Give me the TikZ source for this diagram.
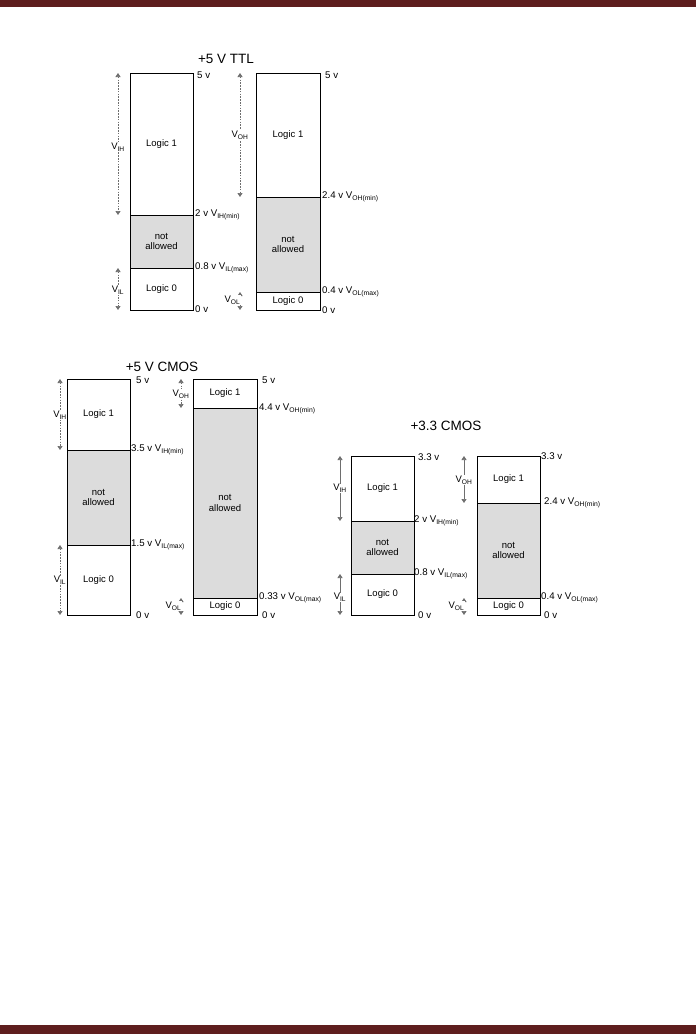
\documentclass[tikz,border=0pt]{standalone}
\usepackage{fontspec}
\setmainfont{Liberation Sans}
\usetikzlibrary{arrows.meta}
\definecolor{pagebar}{RGB}{94,30,30}
\definecolor{shadegray}{RGB}{220,220,220}
\definecolor{dimgray}{RGB}{110,110,110}
\tikzset{
  zone/.style={draw,line width=0.9pt,inner sep=1pt,align=center,font=\fontsize{9.5}{10.5}\selectfont},
  notzone/.style={zone,fill=shadegray},
  lvl/.style={anchor=west,inner sep=0pt,font=\fontsize{9.7}{10.5}\selectfont},
  vlab/.style={fill=white,inner sep=0.5pt,font=\fontsize{9.5}{10.5}\selectfont},
  dim/.style={dimgray,line width=0.6pt,{Triangle[width=5pt,length=4pt]}-{Triangle[width=5pt,length=4pt]}},
  dotdim/.style={dim,dash pattern=on 1.5pt off 1.3pt},
  title/.style={font=\fontsize{13.5}{15}\selectfont}
}
% name, left, right, top, upper line, lower line, bottom, arrow x
\newcommand\logiccol[8]{
  \node[zone,minimum width={#3-#2},minimum height={#5-#4}] (#1-one) at ({(#2+#3)/2},{(#4+#5)/2}) {Logic 1};
  \node[notzone,minimum width={#3-#2},minimum height={#6-#5}] (#1-na) at ({(#2+#3)/2},{(#5+#6)/2}) {not\\allowed};
  \node[zone,minimum width={#3-#2},minimum height={#7-#6}] (#1-zero) at ({(#2+#3)/2},{(#6+#7)/2}) {Logic 0};
  \coordinate (#1-a1) at (#8,#4);
  \coordinate (#1-a2) at (#8,#5);
  \coordinate (#1-a3) at (#8,#6);
  \coordinate (#1-a4) at (#8,#7);
  \draw[arrowline] (#1-a1) -- (#1-a2);
  \draw[arrowline] (#1-a3) -- (#1-a4);
}

\begin{document}
\begin{tikzpicture}[x=1pt,y=-1pt]
\useasboundingbox (0,0) rectangle (696,1034);
\fill[pagebar] (0,0) rectangle (696,7);
\fill[pagebar] (0,1025) rectangle (696,1034);

\begin{scope}[arrowline/.style={dotdim}]
\logiccol{ttlin}{130}{193}{73}{215}{268}{310}{118}
\logiccol{ttlout}{256}{320}{73}{197}{292}{310}{240}
\logiccol{cmin}{67}{130}{379}{450}{545}{615}{60}
\logiccol{cmout}{193}{257}{379}{408}{598}{615}{181}
\end{scope}
\begin{scope}[arrowline/.style={dim}]
\logiccol{lvin}{351}{414}{456}{521}{574}{615}{340}
\logiccol{lvout}{477}{540}{456}{503}{598}{615}{464}
\end{scope}

\node[title] (ttltitle) at (226,59) {+5 V TTL};
\node[title] (cmtitle) at (162,367) {+5 V CMOS};
\node[title] (lvtitle) at (446,426) {+3.3 CMOS};

\node[vlab] (ttlvih) at (118,147) {V\textsubscript{IH}};
\node[vlab] (ttlvil) at (118,290) {V\textsubscript{IL}};
\node[vlab] (ttlvoh) at (240,135) {V\textsubscript{OH}};
\node[vlab,anchor=east] (ttlvol) at (241,300) {V\textsubscript{OL}};
\node[vlab] (cmvih) at (60,415) {V\textsubscript{IH}};
\node[vlab] (cmvil) at (60,580) {V\textsubscript{IL}};
\node[vlab] (cmvoh) at (181,394) {V\textsubscript{OH}};
\node[vlab,anchor=east] (cmvol) at (182,606) {V\textsubscript{OL}};
\node[vlab] (lvvih) at (340,488) {V\textsubscript{IH}};
\node[vlab] (lvvil) at (340,597) {V\textsubscript{IL}};
\node[vlab] (lvvoh) at (464,480) {V\textsubscript{OH}};
\node[vlab,anchor=east] (lvvol) at (465,606) {V\textsubscript{OL}};

\node[lvl] (ttlin5) at (197,75) {5 v};
\node[lvl] (ttlin2) at (195,215) {2 v V\textsubscript{IH(min)}};
\node[lvl] (ttlin08) at (195,268) {0.8 v V\textsubscript{IL(max)}};
\node[lvl] (ttlin0) at (195,309) {0 v};
\node[lvl] (ttlout5) at (325,75) {5 v};
\node[lvl] (ttlout24) at (322,197) {2.4 v V\textsubscript{OH(min)}};
\node[lvl] (ttlout04) at (322,292) {0.4 v V\textsubscript{OL(max)}};
\node[lvl] (ttlout0) at (322,310) {0 v};

\node[lvl] (cmin5) at (136,380) {5 v};
\node[lvl] (cmin35) at (131,450) {3.5 v V\textsubscript{IH(min)}};
\node[lvl] (cmin15) at (131,545) {1.5 v V\textsubscript{IL(max)}};
\node[lvl] (cmin0) at (136,615) {0 v};
\node[lvl] (cmout5) at (262,380) {5 v};
\node[lvl] (cmout44) at (259,409) {4.4 v V\textsubscript{OH(min)}};
\node[lvl] (cmout033) at (259,598) {0.33 v V\textsubscript{OL(max)}};
\node[lvl] (cmout0) at (262,615) {0 v};

\node[lvl] (lvin33) at (418,457) {3.3 v};
\node[lvl] (lvin2) at (414,521) {2 v V\textsubscript{IH(min)}};
\node[lvl] (lvin08) at (414,574) {0.8 v V\textsubscript{IL(max)}};
\node[lvl] (lvin0) at (418,615) {0 v};
\node[lvl] (lvout33) at (541,456) {3.3 v};
\node[lvl] (lvout24) at (544,503) {2.4 v V\textsubscript{OH(min)}};
\node[lvl] (lvout04) at (541,598) {0.4 v V\textsubscript{OL(max)}};
\node[lvl] (lvout0) at (544,615) {0 v};
\end{tikzpicture}
\end{document}
